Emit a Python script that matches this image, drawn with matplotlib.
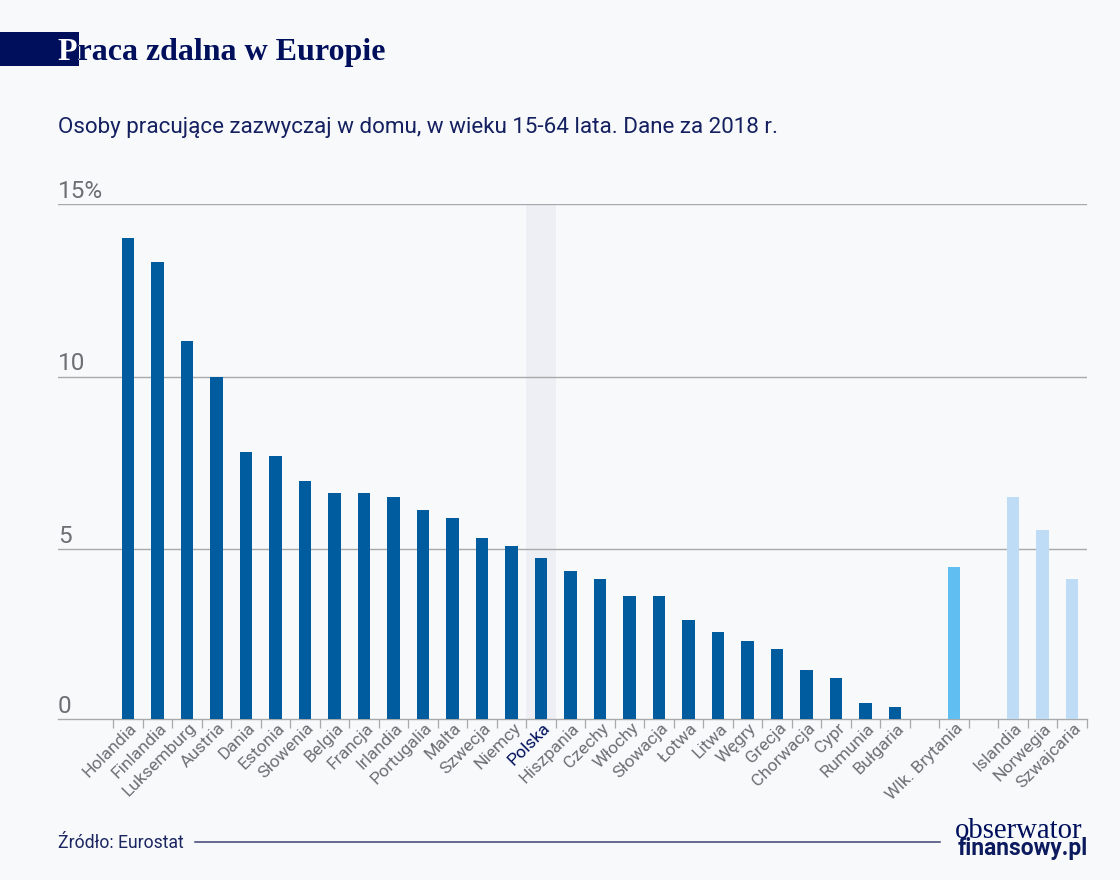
import matplotlib
matplotlib.use('Agg')
import matplotlib.pyplot as plt
from matplotlib.patches import Rectangle
from matplotlib.lines import Line2D
from matplotlib.transforms import Bbox

countries = ['Holandia', 'Finlandia', 'Luksemburg', 'Austria', 'Dania', 'Estonia', 'Słowenia',
             'Belgia', 'Francja', 'Irlandia', 'Portugalia', 'Malta', 'Szwecja', 'Niemcy',
             'Polska', 'Hiszpania', 'Czechy', 'Włochy', 'Słowacja', 'Łotwa', 'Litwa',
             'Węgry', 'Grecja', 'Chorwacja', 'Cypr', 'Rumunia', 'Bułgaria']
values = [14.03, 13.33, 11.04, 10.0, 7.82, 7.71, 6.98, 6.63, 6.63, 6.52, 6.14, 5.9, 5.33, 5.1,
          4.75, 4.37, 4.14, 3.65, 3.65, 2.95, 2.6, 2.34, 2.1, 1.5, 1.27, 0.54, 0.42]
uk_label = ['Wlk. Brytania']
uk_value = [4.49]
other_countries = ['Islandia', 'Norwegia', 'Szwajcaria']
other_values = [6.52, 5.56, 4.14]
y_ticks = [0, 5, 10, 15]
y_labels = ['0', '5', '10', '15%']

BG = '#f7f9fb'
NAVY = '#000f5b'
GRAY = '#6f6f73'
W, H = 1120, 880

plt.rcParams['font.family'] = ['Roboto', 'DejaVu Sans']

fig = plt.figure(figsize=(W / 100, H / 100), dpi=100, facecolor=BG)
ax = fig.add_axes([58 / W, 1 - 719 / H, (1087 - 58) / W, (719 - 204.3) / H])
ax.set_facecolor('none')

# Slot positions: the UK and the non-EU group sit after an empty slot
pos_main = list(range(len(countries)))
pos_uk = [len(countries) + 1]
pos_other = [len(countries) + 3 + i for i in range(len(other_countries))]
last_slot = pos_other[-1]

# Category step is 29.5 px, first bar centre is at x=128 px
step = 29.5
ax.set_xlim(-(128 - 58) / step, last_slot + (1087 - 1072) / step)
# Baseline in the reference sits a little above the spacing of the other grid lines
ax.set_ylim(0.08, 15)

# Highlight behind Polska
ax.axvspan(countries.index('Polska') - 0.5, countries.index('Polska') + 0.5,
           color='#eeeff4', linewidth=0, zorder=0)

ax.set_yticks(y_ticks[1:])
ax.set_yticklabels([])
ax.grid(axis='y', color='#a8a9ab', linewidth=1.0, zorder=1)
ax.set_axisbelow(True)

ax.bar(pos_main, values, width=0.415, color='#005b9f', zorder=3)
ax.bar(pos_uk, uk_value, width=0.415, color='#60bff0', zorder=3)
ax.bar(pos_other, other_values, width=0.415, color='#bedcf5', zorder=3)

# Box off
for side in ['top', 'right', 'left']:
    ax.spines[side].set_visible(False)
ax.spines['bottom'].set_color('#a8a9ab')
ax.spines['bottom'].set_linewidth(1.0)

# Ticks between slots, on the baseline only
boundaries = [i - 0.5 for i in range(last_slot + 1)] + [last_slot + 0.5]
ax.set_xticks(boundaries)
ax.set_xticklabels([])
ax.tick_params(axis='x', length=6.5, width=0.9, color='#a8a9ab')
ax.tick_params(axis='y', length=0)

# Category labels, rotated, ending near the bar centre
for names, slots in [(countries, pos_main), (uk_label, pos_uk), (other_countries, pos_other)]:
    for name, slot in zip(names, slots):
        ax.annotate(name, xy=(slot, 0), xycoords=('data', 'axes fraction'),
                    xytext=(1, -1), textcoords='offset points',
                    rotation=45, rotation_mode='anchor', ha='right', va='top',
                    fontsize=12.6, color=NAVY if name == 'Polska' else GRAY)

# Y labels sit above the grid lines, flush with the left edge
for tick, label in zip(y_ticks, y_labels):
    ax.annotate(label, xy=(0, max(tick, 0.08)), xycoords=('axes fraction', 'data'),
                xytext=(0, 1), textcoords='offset points', ha='left', va='bottom',
                fontsize=17.5, color=GRAY)

# Title: navy box, the part of the text over it is white
fig.add_artist(Rectangle((0, 1 - 66 / H), 79 / W, 34 / H, transform=fig.transFigure,
                         color=NAVY, linewidth=0, zorder=1))
title = 'Praca zdalna w Europie'
fig.text(58 / W, 1 - 60 / H, title, family='Liberation Serif', weight='bold',
         fontsize=23, color=NAVY, zorder=2)
white = fig.text(58 / W, 1 - 60 / H, title, family='Liberation Serif', weight='bold',
                 fontsize=23, color='white', zorder=3)
white.set_clip_box(Bbox([[0, H - 66], [79, H - 32]]))
white.set_clip_on(True)

fig.text(58 / W, 1 - 133 / H, 'Osoby pracujące zazwyczaj w domu, w wieku 15-64 lata. Dane za 2018 r.',
         fontsize=16.1, color='#14205f')

# Footer
fig.text(58 / W, 1 - 848 / H, 'Źródło: Eurostat', fontsize=12.7, color='#1c2660')
fig.add_artist(Line2D([195 / W, 940 / W], [1 - 842 / H, 1 - 842 / H], color='#3a4272', linewidth=1.1))

# Logo
fig.text(1082 / W, 1 - 838 / H, 'obserwator', family='Liberation Serif', fontsize=20.7,
         color=NAVY, ha='right')
fig.text(1088 / W, 1 - 855 / H, 'finansowy.pl', fontsize=16.4, weight='bold', color='#0c1a5e', ha='right')

fig.savefig('out.png', dpi=100, facecolor=BG)
